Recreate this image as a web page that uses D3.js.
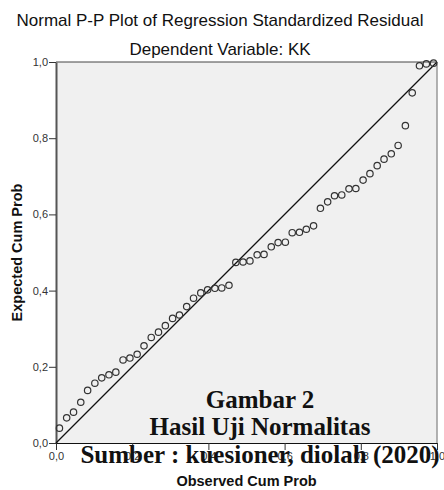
<!DOCTYPE html>
<html>
<head>
<meta charset="utf-8">
<script src="https://cdn.jsdelivr.net/npm/d3@7"></script>
<style>
  body { margin: 0; background: #fff; }
</style>
</head>
<body>
<svg></svg>
<script>
// observed vs expected cumulative probabilities
const observedCumProb = [0.009, 0.028, 0.046, 0.065, 0.083, 0.102, 0.120, 0.139, 0.157, 0.176,
    0.194, 0.213, 0.231, 0.250, 0.269, 0.287, 0.306, 0.324, 0.343, 0.361,
    0.380, 0.398, 0.417, 0.435, 0.454, 0.472, 0.491, 0.509, 0.528, 0.546,
    0.565, 0.583, 0.602, 0.620, 0.639, 0.657, 0.676, 0.694, 0.713, 0.731,
    0.750, 0.769, 0.787, 0.806, 0.824, 0.843, 0.861, 0.880, 0.898, 0.917,
    0.935, 0.954, 0.972, 0.991]
const expectedCumProb = [0.039, 0.066, 0.081, 0.107, 0.138, 0.157, 0.171, 0.179, 0.186, 0.218,
    0.223, 0.233, 0.255, 0.277, 0.291, 0.308, 0.327, 0.336, 0.358, 0.380,
    0.394, 0.402, 0.406, 0.407, 0.414, 0.474, 0.475, 0.478, 0.494, 0.495,
    0.515, 0.526, 0.527, 0.552, 0.553, 0.561, 0.570, 0.616, 0.633, 0.649,
    0.651, 0.667, 0.668, 0.690, 0.707, 0.728, 0.745, 0.759, 0.781, 0.833,
    0.919, 0.990, 0.995, 0.997]
const tickValues = [0, 0.2, 0.4, 0.6, 0.8, 1.0]
const tickLabels = ["0,0", "0,2", "0,4", "0,6", "0,8", "1,0"]

let margin = { top: 62, right: 7, bottom: 47, left: 56 },
    width = 444 - margin.left - margin.right,
    height = 490 - margin.top - margin.bottom;

let svg = d3.select("svg")
    .attr("width", 444)
    .attr("height", 490)
    .style("display", "block")

let xScale = d3.scaleLinear().domain([0, 1]).range([margin.left, margin.left + width])
let yScale = d3.scaleLinear().domain([0, 1]).range([margin.top + height, margin.top])

const sans = "'Liberation Sans', Arial, sans-serif"

// titles
svg.append("text")
    .attr("x", 220).attr("y", 26)
    .attr("text-anchor", "middle")
    .style("font-family", sans).style("font-size", "17px")
    .attr("fill", "#111")
    .text("Normal P-P Plot of Regression Standardized Residual")

svg.append("text")
    .attr("x", 220).attr("y", 55)
    .attr("text-anchor", "middle")
    .style("font-family", sans).style("font-size", "17px")
    .attr("fill", "#111")
    .text("Dependent Variable: KK")

// plot background
svg.append("rect")
    .attr("x", xScale(0)).attr("y", yScale(1))
    .attr("width", xScale(1) - xScale(0))
    .attr("height", yScale(0) - yScale(1))
    .attr("fill", "#f0f0f0")

// frame
svg.append("line")
    .attr("x1", xScale(0)).attr("x2", xScale(1))
    .attr("y1", yScale(1)).attr("y2", yScale(1))
    .attr("stroke", "#444").attr("stroke-width", 1)
svg.append("line")
    .attr("x1", xScale(1)).attr("x2", xScale(1))
    .attr("y1", yScale(1)).attr("y2", yScale(0))
    .attr("stroke", "#999").attr("stroke-width", 1.5)

// axes
let yAxis = d3.axisLeft(yScale)
    .tickValues(tickValues)
    .tickFormat((d, i) => tickLabels[i])
    .tickSize(7)
    .tickSizeOuter(0)
let xAxis = d3.axisBottom(xScale)
    .tickValues(tickValues)
    .tickFormat((d, i) => tickLabels[i])
    .tickSize(7)
    .tickSizeOuter(0)

let gy = svg.append("g")
    .attr("transform", "translate(" + xScale(0) + ",0)")
    .call(yAxis)
gy.select(".domain").attr("stroke", "#555").attr("stroke-width", 2)

let gx = svg.append("g")
    .attr("transform", "translate(0," + yScale(0) + ")")
    .call(xAxis)
gx.select(".domain").attr("stroke", "#111").attr("stroke-width", 1)

svg.selectAll(".tick line").attr("stroke", "#333")
svg.selectAll(".tick text")
    .style("font-family", sans).style("font-size", "11px")
    .attr("fill", "#333")
gy.selectAll(".tick text").attr("x", -8).attr("dy", "0.32em")
gx.selectAll(".tick text").attr("y", 9)

svg.append("text")
    .attr("transform", "translate(22," + ((yScale(0) + yScale(1)) / 2) + ") rotate(-90)")
    .attr("text-anchor", "middle")
    .style("font-family", sans).style("font-size", "14.5px").style("font-weight", "bold")
    .attr("fill", "#111")
    .text("Expected Cum Prob")

svg.append("text")
    .attr("x", (xScale(0) + xScale(1)) / 2).attr("y", 486)
    .attr("text-anchor", "middle")
    .style("font-family", sans).style("font-size", "14.5px").style("font-weight", "bold")
    .attr("fill", "#111")
    .text("Observed Cum Prob")

// reference line
svg.append("line")
    .attr("x1", xScale(0)).attr("y1", yScale(0))
    .attr("x2", xScale(1)).attr("y2", yScale(1))
    .attr("stroke", "#111").attr("stroke-width", 1.2)

// points
svg.append("g")
    .selectAll("circle")
    .data(observedCumProb)
    .enter().append("circle")
        .attr("cx", d => xScale(d))
        .attr("cy", (d, i) => yScale(expectedCumProb[i]))
        .attr("r", 3.2)
        .attr("fill", "none")
        .attr("stroke", "#333")
        .attr("stroke-width", 1.2)

// caption pasted over the chart
const serif = "'Liberation Serif', 'Times New Roman', serif"
const caption = [
    { text: "Gambar 2", y: 408 },
    { text: "Hasil Uji Normalitas", y: 435 },
    { text: "Sumber : kuesioner, diolah (2020)", y: 463 }
]
svg.append("g")
    .selectAll("text")
    .data(caption)
    .enter().append("text")
        .attr("x", 260)
        .attr("y", d => d.y)
        .attr("text-anchor", "middle")
        .style("font-family", serif).style("font-size", "25px").style("font-weight", "bold")
        .attr("fill", "#111")
        .text(d => d.text)
</script>
</body>
</html>
